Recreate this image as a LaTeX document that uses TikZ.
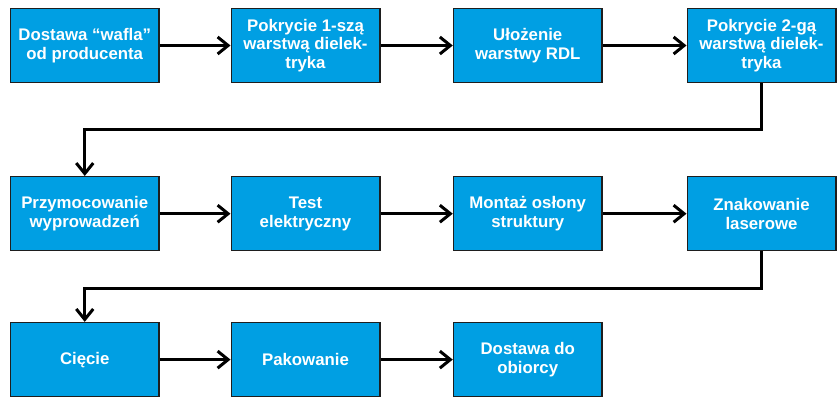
\documentclass[tikz,border=0pt]{standalone}
\usepackage{fontspec}
\setmainfont{Liberation Sans}
\usetikzlibrary{arrows.meta}
\definecolor{boxblue}{RGB}{0,159,227}
\definecolor{boxborder}{RGB}{30,30,30}
\tikzset{
  stepbox/.style={draw=boxborder, line width=1.5pt, fill=boxblue, rectangle,
    minimum width=148.5pt, minimum height=74pt, inner sep=0pt,
    text=white, align=center, font=\fontsize{16.8}{18.6}\selectfont\bfseries},
  flow/.style={line width=3pt, draw=black, -{Straight Barb[length=10.5pt,width=17pt,line width=3pt]}}
}
\begin{document}
\begin{tikzpicture}[x=1pt,y=-1pt]
\useasboundingbox (0,0) rectangle (838,397);
\node[stepbox] (b1) at (84.75,45.5) {Dostawa “wafla”\\od producenta};
\node[stepbox] (b2) at (305.5,45.5) {Pokrycie 1-szą\\warstwą dielek-\\tryka};
\node[stepbox] (b3) at (527.75,45.5) {Ułożenie\\warstwy RDL};
\node[stepbox] (b4) at (761.5,45.5) {Pokrycie 2-gą\\warstwą dielek-\\tryka};
\node[stepbox] (b5) at (84.75,213.7) {Przymocowanie\\wyprowadzeń};
\node[stepbox] (b6) at (305.5,213.7) {Test\\elektryczny};
\node[stepbox] (b7) at (527.75,213.7) {Montaż osłony\\struktury};
\node[stepbox] (b8) at (761.5,213.7) {Znakowanie\\laserowe};
\node[stepbox] (b9) at (84.75,359.6) {Cięcie};
\node[stepbox] (b10) at (305.5,359.6) {Pakowanie};
\node[stepbox] (b11) at (527.75,359.6) {Dostawa do\\obiorcy};
\draw[flow] (b1.east) -- (b2.west);
\draw[flow] (b2.east) -- (b3.west);
\draw[flow] (b3.east) -- (b4.west);
\draw[flow] (b4.south) -- ++(0,46.5) -| (b5.north);
\draw[flow] (b5.east) -- (b6.west);
\draw[flow] (b6.east) -- (b7.west);
\draw[flow] (b7.east) -- (b8.west);
\draw[flow] (b8.south) -- ++(0,36.6) -| (b9.north);
\draw[flow] (b9.east) -- (b10.west);
\draw[flow] (b10.east) -- (b11.west);
\end{tikzpicture}
\end{document}
